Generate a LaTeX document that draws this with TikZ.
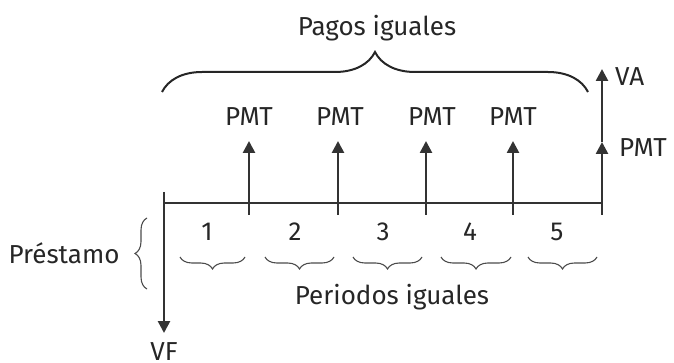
\documentclass[tikz,border=0pt]{standalone}
\usepackage{fontspec}
\setmainfont{Fira Sans}
\usetikzlibrary{arrows.meta,decorations.pathreplacing}
\begin{document}
\begin{tikzpicture}[x=1pt,y=-1pt,
  axis/.style={line width=2.6pt,draw=black!80},
  up/.style={line width=2.6pt,draw=black!80,-{Triangle[width=12pt,length=12pt]}},
  lbl/.style={font=\fontsize{26}{28}\selectfont,text=black!85,inner sep=0pt},
  bigbrace/.style={decorate,decoration={brace,amplitude=40pt},line width=2pt,draw=black!85},
  smallbrace/.style={decorate,decoration={brace,amplitude=12pt,mirror},line width=1.1pt,draw=black!70},
  leftbrace/.style={decorate,decoration={brace,amplitude=12pt},line width=1.1pt,draw=black!70}]
\useasboundingbox (0,0) rectangle (674,363);
% coordinates
\coordinate (o) at (164,203);
\coordinate (otop) at (164,192);
\coordinate (vfend) at (164,333);
\coordinate (e) at (602,203);
\coordinate (ebot) at (602,215);
\coordinate (emid) at (602,142);
\coordinate (etop) at (602,69);
\foreach \i/\x in {1/249,2/338,3/426,4/513}{
  \coordinate (b\i) at (\x,215);
  \coordinate (t\i) at (\x,141);
}
% timeline
\draw[axis] (o) -- (e);
\draw[axis] (otop) -- (o);
\draw[up] (o) -- (vfend);
\foreach \i in {1,2,3,4}{ \draw[up] (b\i) -- (t\i); }
\draw[up] (ebot) -- (emid);
\draw[up] (emid) -- (etop);
% labels
\node[lbl] (pmt1) at (249,117) {PMT};
\node[lbl] (pmt2) at (340,117) {PMT};
\node[lbl] (pmt3) at (432,117) {PMT};
\node[lbl] (pmt4) at (513,117) {PMT};
\node[lbl,anchor=west] (va) at (615,77) {VA};
\node[lbl,anchor=west] (pmt5) at (619,148) {PMT};
\node[lbl] (vf) at (164,352) {VF};
\node[lbl] (pagos) at (377,28) {Pagos iguales};
\node[lbl] (periodos) at (392,297) {Periodos iguales};
\node[lbl] (prest) at (64,253) {Préstamo};
\foreach \i/\x in {1/207,2/295,3/383,4/470,5/557}{
  \node[lbl] (n\i) at (\x,232) {\i};
}
% braces
\coordinate (bl) at (162,92);
\coordinate (br) at (588,92);
\draw[bigbrace] (bl) -- (br);
\foreach \i/\a/\b in {1/180/245,2/265/334,3/353/422,4/441/511,5/528/597}{
  \coordinate (sa\i) at (\a,257);
  \coordinate (sb\i) at (\b,257);
  \draw[smallbrace] (sa\i) -- (sb\i);
}
\coordinate (pa) at (147,289);
\coordinate (pb) at (147,218);
\draw[leftbrace] (pa) -- (pb);
\end{tikzpicture}
\end{document}
